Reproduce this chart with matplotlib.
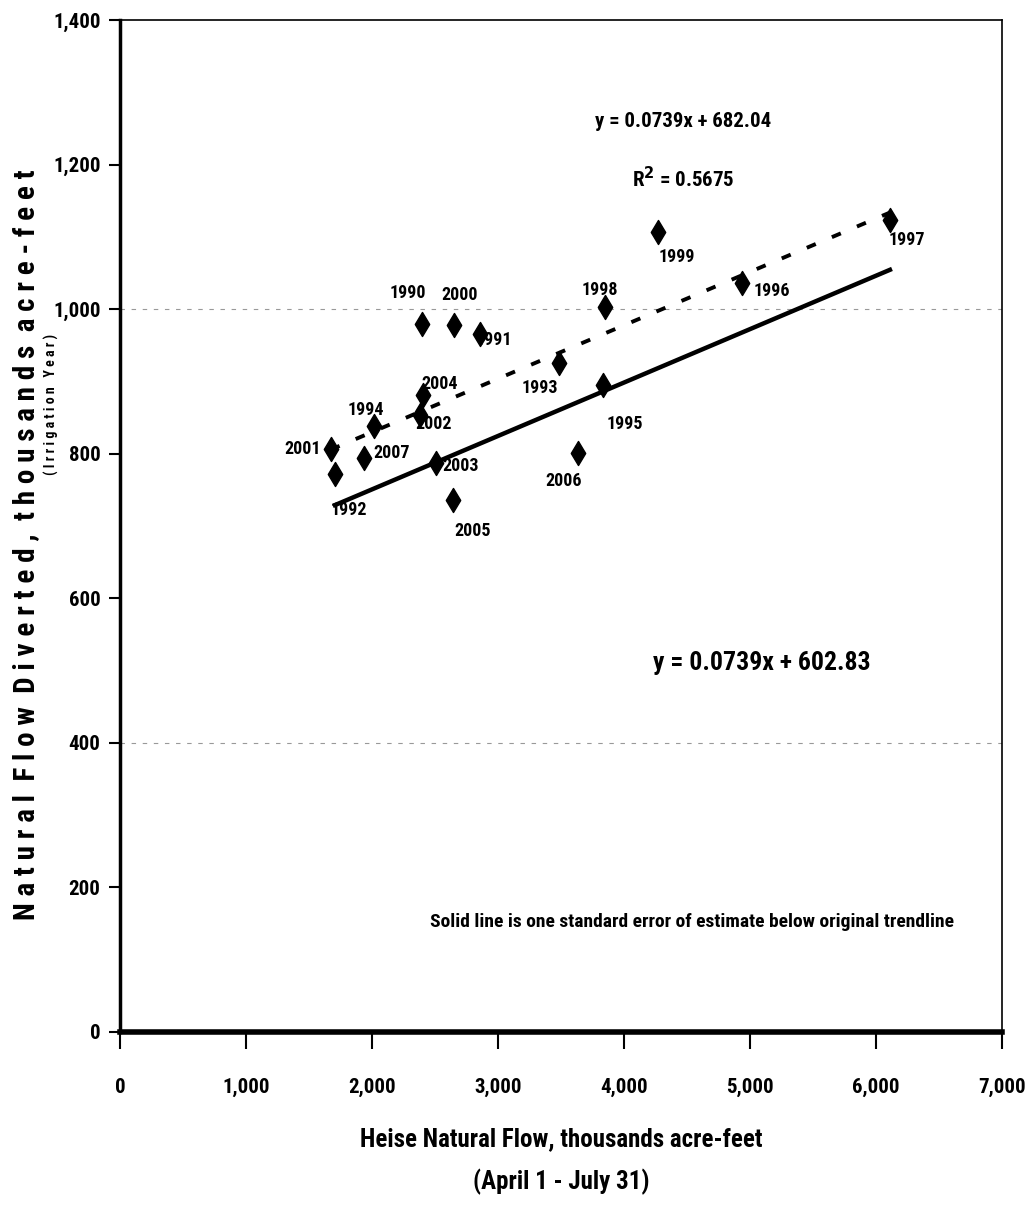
import numpy as np
import matplotlib
matplotlib.use("Agg")
import matplotlib.pyplot as plt
from matplotlib import font_manager as fm

# pick a narrow face if the system has one
names = {f.name for f in fm.fontManager.ttflist}
cands = ['Liberation Sans Narrow', 'Arial Narrow', 'Roboto Condensed',
         'DejaVu Sans Condensed', 'Open Sans Condensed', 'Noto Sans Condensed']
narrow = next((c for c in cands if c in names), None)
stretch = 'normal'
if narrow is None:
    narrow = 'DejaVu Sans'
    if any(f.name == 'DejaVu Sans' and f.stretch == 'condensed' for f in fm.fontManager.ttflist):
        stretch = 'condensed'

plt.rcParams['font.family'] = [narrow, 'DejaVu Sans']
plt.rcParams['font.weight'] = 'bold'
plt.rcParams['font.stretch'] = stretch

# data
years = ['1990', '2000', '1991', '1998', '1993', '2004', '2002', '1994', '2001',
         '2007', '1992', '2003', '2005', '2006', '1995', '1999', '1996', '1997']
heise = [2394, 2651, 2860, 3849, 3487, 2402, 2381, 2019, 1672,
         1937, 1706, 2505, 2645, 3632, 3831, 4267, 4934, 6111]
diverted = [980, 978, 965, 1003, 925, 881, 853, 838, 806,
            794, 772, 787, 736, 801, 895, 1107, 1036, 1123]
# label offsets in points (dx, dy)
label_off = [(-10, 22), (4, 22), (10, -4), (-4, 12), (-14, -18), (12, 8), (10, -6),
             (-6, 12), (-20, 0), (20, 4), (10, -26), (18, -2), (14, -22),
             (-10, -20), (16, -28), (14, -18), (22, -6), (12, -14)]

slope = 0.0739
icept_orig = 682.04
icept_low = 602.83
line_x = [1672, 6111]
line_x_low = [1706, 6111]

xticks = [0, 1000, 2000, 3000, 4000, 5000, 6000, 7000]
yticks = [0, 200, 400, 600, 800, 1000, 1200, 1400]

fig = plt.figure(figsize=(10.34, 12.21), dpi=100)
ax = fig.add_axes([0.116, 0.1548, 0.853, 0.8288])
ax.set_xlim(0, 7000)
ax.set_ylim(0, 1400)

for gy in [400, 1000]:
    ax.axhline(gy, color='#999999', lw=0.8, ls=(0, (4, 6)), zorder=1)

lx = np.array(line_x)
ax.plot(lx, slope * lx + icept_orig, color='black', lw=2.8, ls=(0, (2.5, 4.5)), zorder=2)
lx2 = np.array(line_x_low)
ax.plot(lx2, slope * lx2 + icept_low, color='black', lw=3.2, zorder=2)

ax.scatter(heise, diverted, marker='d', s=150, color='black', zorder=3)
for yr, xv, yv, (dx, dy) in zip(years, heise, diverted, label_off):
    ax.annotate(yr, (xv, yv), xytext=(dx, dy), textcoords='offset points',
                ha='center', va='center', fontsize=13, fontweight='bold')

ax.text(0.638, 0.9, 'y = 0.0739x + 682.04', transform=ax.transAxes,
        ha='center', va='center', fontsize=15, fontweight='bold')
ax.text(0.639, 0.843, 'R$^\\mathbf{2}$ = 0.5675', transform=ax.transAxes,
        ha='center', va='center', fontsize=15, fontweight='bold')
ax.text(0.728, 0.3646, 'y = 0.0739x + 602.83', transform=ax.transAxes,
        ha='center', va='center', fontsize=18.5, fontweight='bold')
ax.text(0.6485, 0.1087, 'Solid line is one standard error of estimate below original trendline',
        transform=ax.transAxes, ha='center', va='center', fontsize=14, fontweight='bold')

ax.set_xticks(xticks)
ax.set_yticks(yticks)
ax.set_xticklabels([f'{v:,}' for v in xticks], fontsize=15, fontweight='bold')
ax.set_yticklabels([f'{v:,}' for v in yticks], fontsize=15, fontweight='bold')
ax.tick_params(axis='x', direction='out', length=12, width=1.5, pad=21)
ax.tick_params(axis='y', direction='out', length=8, width=1.5, pad=6)

ax.spines['left'].set_linewidth(2.5)
ax.spines['bottom'].set_linewidth(4)
ax.spines['top'].set_linewidth(1.2)
ax.spines['right'].set_linewidth(1.2)

ax.set_xlabel('Heise Natural Flow, thousands acre-feet\n(April 1 - July 31)',
              fontsize=18, fontweight='bold', linespacing=1.85, labelpad=22)

ylab = '  '.join(' '.join(w) for w in 'Natural Flow Diverted, thousands acre-feet'.split())
fig.text(0.025, 0.5537, ylab, rotation=90, ha='center', va='center',
         fontsize=21, fontweight='bold')
fig.text(0.05, 0.669, ' '.join('(Irrigation Year)'), rotation=90, ha='center', va='center',
         fontsize=10, fontweight='bold')

fig.savefig('out.png', dpi=100)
